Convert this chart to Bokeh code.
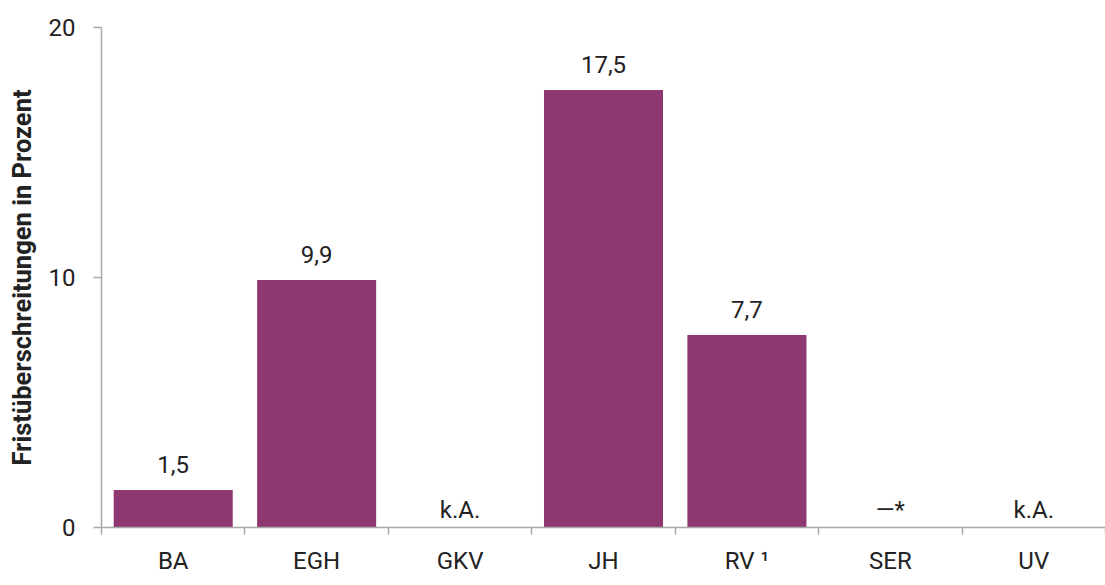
from bokeh.plotting import figure
from bokeh.models import (Range1d, LinearAxis, FixedTicker, ColumnDataSource)
from bokeh.core.properties import value
from bokeh.embed import file_html
from bokeh.resources import INLINE

# ---- data ----
categories = ["BA", "EGH", "GKV", "JH", "RV ¹", "SER", "UV"]
values = [1.5, 9.9, None, 17.5, 7.7, None, None]
value_labels = ["1,5", "9,9", "k.A.", "17,5", "7,7", "—*", "k.A."]
y_ticks = [0, 10, 20]

BAR_COLOR = "#8F3770"
TEXT_COLOR = "#222222"
AXIS_COLOR = "#A8A8A8"
FONT = "Roboto"

n = len(categories)
centers = [i + 0.5 for i in range(n)]
boundaries = list(range(n + 1))

bar_x = [c for c, v in zip(centers, values) if v is not None]
bar_y = [v for v in values if v is not None]
bar_lbl = [l for l, v in zip(value_labels, values) if v is not None]
miss_x = [c for c, v in zip(centers, values) if v is None]
miss_lbl = [l for l, v in zip(value_labels, values) if v is None]

bars = ColumnDataSource(dict(x=bar_x, top=bar_y, label=bar_lbl))
missing = ColumnDataSource(dict(x=miss_x, y=[0] * len(miss_x), label=miss_lbl))

p = figure(width=1105, height=577,
           x_range=Range1d(0, n), y_range=Range1d(0, 20),
           output_backend="svg", toolbar_location=None,
           x_axis_location=None,
           min_border_left=101, min_border_right=0,
           min_border_top=27, min_border_bottom=50)
p.outline_line_color = None
p.grid.visible = False
p.background_fill_color = "white"
p.border_fill_color = "white"

p.vbar(x="x", top="top", width=0.83, source=bars,
       fill_color=BAR_COLOR, line_color=None)

p.text(x="x", y="top", text="label", source=bars,
       text_align="center", text_baseline="alphabetic", y_offset=-26,
       text_font=value(FONT), text_font_size="24px", text_color=TEXT_COLOR)
p.text(x="x", y="y", text="label", source=missing,
       text_align="center", text_baseline="alphabetic", y_offset=-18,
       text_font=value(FONT), text_font_size="24px", text_color=TEXT_COLOR)

# y axis
ya = p.yaxis[0]
ya.ticker = FixedTicker(ticks=y_ticks)
ya.axis_label = "Fristüberschreitungen in Prozent"
ya.axis_label_text_font = FONT
ya.axis_label_text_font_style = "bold"
ya.axis_label_text_font_size = "25.5px"
ya.axis_label_text_color = TEXT_COLOR
ya.axis_label_standoff = 9
ya.major_label_text_font = FONT
ya.major_label_text_font_size = "24px"
ya.major_label_text_color = TEXT_COLOR
ya.major_label_standoff = 18
ya.major_tick_out = 8
ya.major_tick_in = 0
ya.minor_tick_out = 0
ya.minor_tick_in = 0
ya.axis_line_color = AXIS_COLOR
ya.axis_line_width = 1.5
ya.major_tick_line_color = AXIS_COLOR
ya.major_tick_line_width = 1.5

# x axis: names at centres (major), ticks at category boundaries (minor)
xa = LinearAxis(ticker=FixedTicker(ticks=centers, minor_ticks=boundaries),
                major_label_overrides={c: name for c, name in zip(centers, categories)})
xa.axis_line_color = AXIS_COLOR
xa.axis_line_width = 1.5
xa.major_tick_line_color = None
xa.major_tick_out = 7
xa.major_tick_in = 0
xa.minor_tick_line_color = AXIS_COLOR
xa.minor_tick_line_width = 1.5
xa.minor_tick_out = 7
xa.minor_tick_in = 0
xa.major_label_standoff = 12
xa.major_label_text_font = FONT
xa.major_label_text_font_size = "24px"
xa.major_label_text_color = TEXT_COLOR
p.add_layout(xa, "below")

open("out.html", "w").write(file_html(p, INLINE))
